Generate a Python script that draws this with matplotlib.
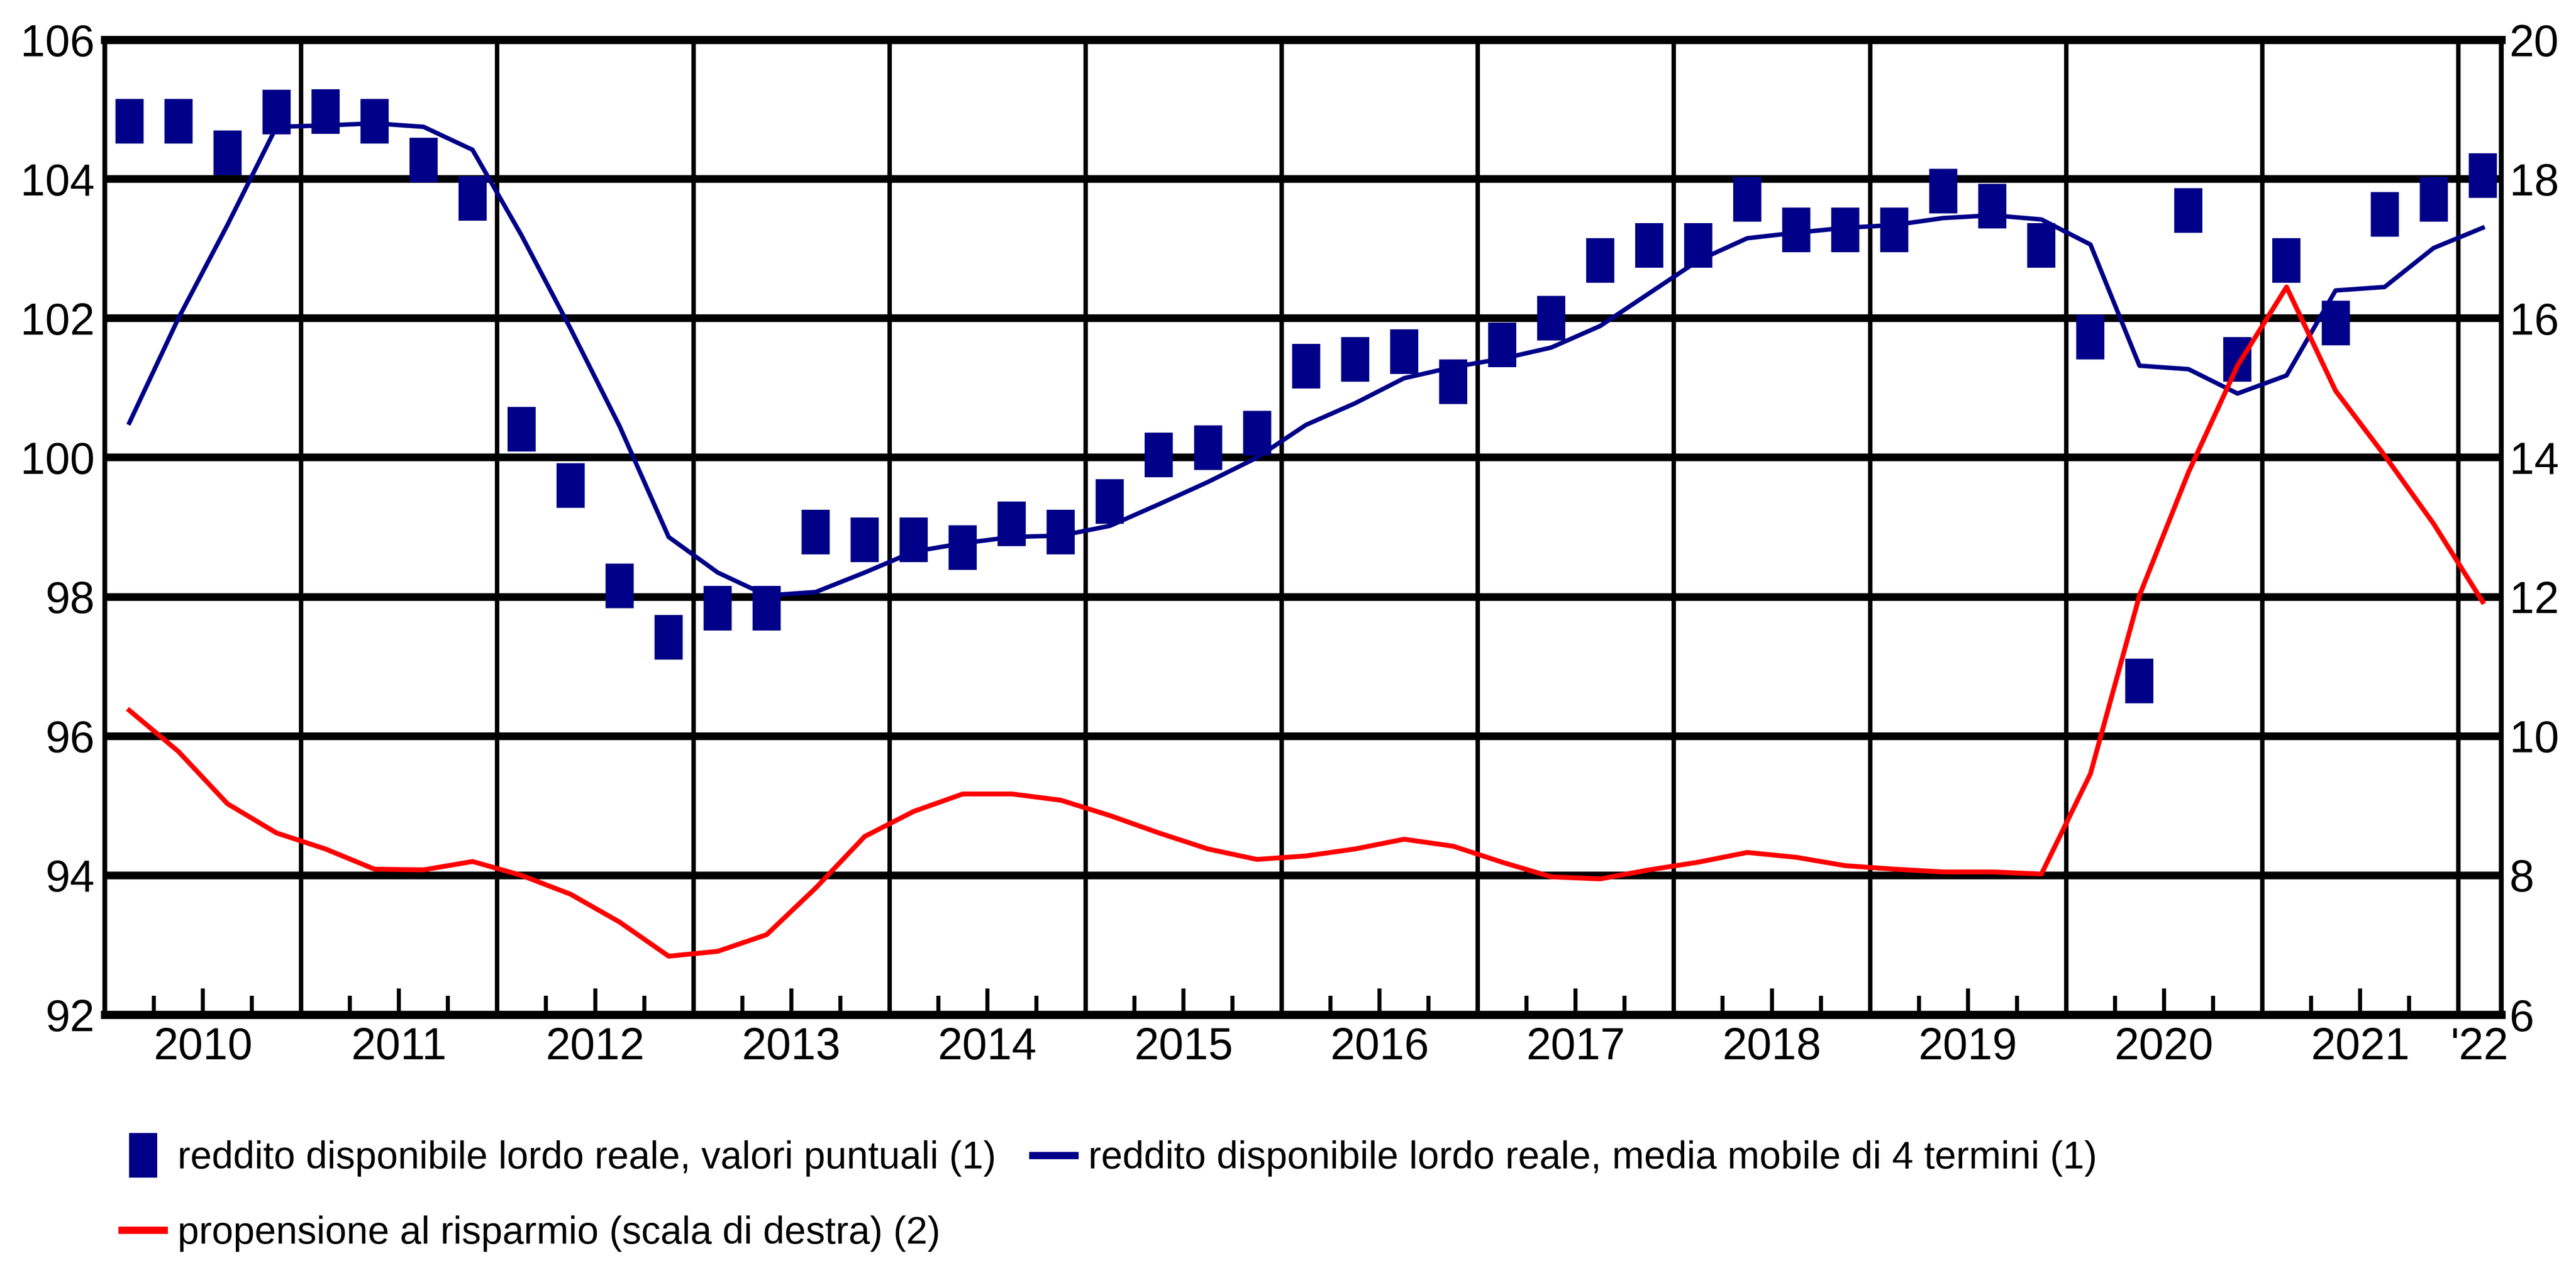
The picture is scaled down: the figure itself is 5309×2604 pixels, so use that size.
import numpy as np
import matplotlib
matplotlib.use("Agg")
import matplotlib.pyplot as plt
from matplotlib import font_manager
from matplotlib.lines import Line2D

# ---------------- data ----------------
years = [2010, 2011, 2012, 2013, 2014, 2015, 2016, 2017, 2018, 2019, 2020, 2021, 2022]
quarters = [f"{y}Q{q}" for y in years[:-1] for q in (1, 2, 3, 4)] + ["2022Q1"]

income_points = [104.83, 104.83, 104.38, 104.96,
                 104.97, 104.83, 104.27, 103.72,
                 100.41, 99.60, 98.16, 97.42,
                 97.84, 97.84, 98.93, 98.82,
                 98.82, 98.71, 99.05, 98.93,
                 99.37, 100.04, 100.14, 100.35,
                 101.31, 101.41, 101.52, 101.09,
                 101.62, 102.00, 102.83, 103.05,
                 103.05, 103.71, 103.27, 103.27,
                 103.27, 103.83, 103.61, 103.05,
                 101.73, 96.79, 103.55, 101.41,
                 102.83, 101.93, 103.49, 103.71,
                 104.05]

income_ma = [100.50, 102.00, 103.34, 104.75,
             104.77, 104.80, 104.75, 104.42,
             103.19, 101.85, 100.45, 98.86,
             98.35, 98.02, 98.07, 98.35,
             98.65, 98.77, 98.86, 98.88,
             99.02, 99.33, 99.65, 100.00,
             100.47, 100.78, 101.14, 101.30,
             101.42, 101.58, 101.89, 102.36,
             102.83, 103.15, 103.23, 103.30,
             103.34, 103.44, 103.48, 103.42,
             103.06, 101.32, 101.27, 100.92,
             101.18, 102.40, 102.45, 103.01,
             103.30]

saving_rate = [10.37, 9.78, 9.03, 8.61,
               8.38, 8.09, 8.08, 8.20,
               8.00, 7.73, 7.33, 6.84,
               6.91, 7.15, 7.82, 8.56,
               8.92, 9.17, 9.17, 9.08,
               8.86, 8.61, 8.38, 8.23,
               8.28, 8.38, 8.52, 8.42,
               8.19, 7.98, 7.95, 8.08,
               8.19, 8.33, 8.26, 8.14,
               8.09, 8.05, 8.05, 8.02,
               9.46, 12.02, 13.79, 15.32,
               16.45, 14.96, 14.03, 13.05,
               11.93]

year_labels = ["2010", "2011", "2012", "2013", "2014", "2015", "2016",
               "2017", "2018", "2019", "2020", "2021", "'22"]
left_ticks = [92, 94, 96, 98, 100, 102, 104, 106]
right_ticks = [6, 8, 10, 12, 14, 16, 18, 20]

label_points = "reddito disponibile lordo reale, valori puntuali (1)"
label_ma = "reddito disponibile lordo reale, media mobile di 4 termini (1)"
label_sav = "propensione al risparmio (scala di destra) (2)"

# ---------------- style ----------------
def pick_font(cands):
    for fam in cands:
        try:
            font_manager.findfont(font_manager.FontProperties(family=fam),
                                  fallback_to_default=False)
            return fam
        except Exception:
            continue
    return "DejaVu Sans"

FONT = pick_font(["Liberation Sans Narrow", "Liberation Sans", "DejaVu Sans"])
plt.rcParams["font.family"] = [FONT, "DejaVu Sans"]

NAVY = "#000088"
RED = "#ff0000"
TICK_FS = 22
LEG_FS = 19

x = np.array([int(q[:4]) + (int(q[-1]) - 0.5) / 4.0 for q in quarters])

fig = plt.figure(figsize=(5309 / 300, 2604 / 300), dpi=300)
ax = fig.add_axes([0.0407, 0.1966, 0.9303, 0.7719])
ax2 = ax.twinx()

# grid
ax.set_ylim(92, 106)
ax.set_yticks(left_ticks)
ax.yaxis.grid(True, color="black", linewidth=3.8, zorder=0)
for yb in years[1:]:
    ax.axvline(yb, color="black", linewidth=2.2, zorder=0.5)
ax.set_axisbelow(True)

rect = [(-0.32, -0.5), (0.32, -0.5), (0.32, 0.5), (-0.32, 0.5), (-0.32, -0.5)]
ax.plot(x, income_ma, color=NAVY, linewidth=2.2, zorder=3)
ax.plot(x, income_points, linestyle="none", marker=rect, markersize=22,
        color=NAVY, markeredgewidth=0, zorder=4)

ax2.set_ylim(6, 20)
ax2.set_yticks(right_ticks)
ax2.plot(x, saving_rate, color=RED, linewidth=2.4, zorder=3)

ax.set_xlim(2010.0, 2022.22)
# year labels on mid-year ticks (long), quarter ticks short
mid = [y + 0.5 for y in years[:-1]] + [2022.11]
ax.set_xticks(mid)
ax.set_xticklabels(year_labels)
minor = [y + f for y in years[:-1] for f in (0.25, 0.75)]
ax.set_xticks(minor, minor=True)
ax.tick_params(axis="x", which="major", direction="in", length=13, width=2.0,
               labelsize=TICK_FS, pad=6, top=False)
ax.tick_params(axis="x", which="minor", direction="in", length=9.4, width=2.0,
               top=False)
# no tick mark under the '22 label
ax.xaxis.get_major_ticks()[-1].tick1line.set_visible(False)

ax.tick_params(axis="y", length=0, labelsize=TICK_FS, pad=5)
ax2.tick_params(axis="y", length=0, labelsize=TICK_FS, pad=4)
ax2.tick_params(axis="x", length=0)

for a in (ax, ax2):
    a.spines["top"].set_linewidth(4.0)
    a.spines["bottom"].set_linewidth(4.0)
    a.spines["left"].set_linewidth(2.4)
    a.spines["right"].set_linewidth(2.4)
    for s in a.spines.values():
        s.set_color("black")

# legend
h_pts = Line2D([], [], linestyle="none", marker=rect, markersize=22,
               color=NAVY, markeredgewidth=0)
h_ma = Line2D([], [], color=NAVY, linewidth=3.6)
h_sav = Line2D([], [], color=RED, linewidth=3.6)
fig.legend([h_pts, h_sav, h_ma], [label_points, label_sav, label_ma],
           ncol=2, loc="upper left", bbox_to_anchor=(0.0473, 0.097),
           frameon=False, fontsize=LEG_FS, handlelength=1.1,
           handletextpad=0.35, columnspacing=0.95, labelspacing=1.0,
           borderpad=0, borderaxespad=0)

fig.savefig("out.png", dpi=300)
